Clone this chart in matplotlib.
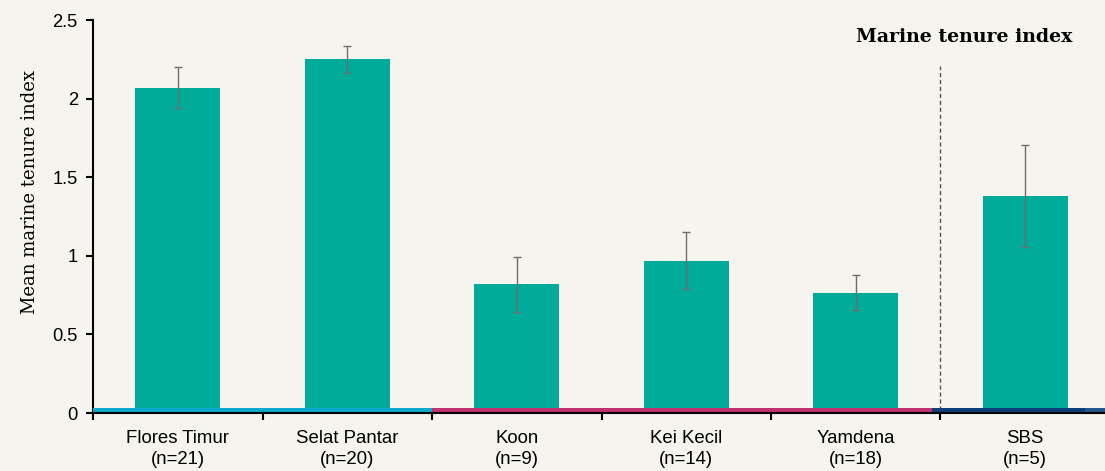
import matplotlib
matplotlib.use('Agg')
import matplotlib.pyplot as plt
import numpy as np

# ---------------------------------------------------------------------------
# Data
# ---------------------------------------------------------------------------

sites = ['Flores Timur', 'Selat Pantar', 'Koon', 'Kei Kecil', 'Yamdena', 'SBS']
sample_n = [21, 20, 9, 14, 18, 5]
mean_index = [2.07, 2.25, 0.82, 0.97, 0.765, 1.38]
err_index = [0.13, 0.085, 0.175, 0.18, 0.11, 0.325]

# region bands along the base: (first x, last x, colour)
band_start = [-0.5, 1.5, 4.45, 5.35]
band_end = [1.5, 4.45, 5.35, 5.5]
band_colors = ['#0ea9cb', '#c1316f', '#0d3e78', '#25568e']

BG = '#f5f4ee'
BAR = '#00ab9a'

# ---------------------------------------------------------------------------
# Plot
# ---------------------------------------------------------------------------

fig = plt.figure(figsize=(11.05, 4.71), dpi=100, facecolor=BG)
ax = fig.add_axes([0.0842, 0.1231, 0.9203, 0.8344])
ax.set_facecolor(BG)

x = np.arange(len(sites))
ax.bar(x, mean_index, width=0.5, color=BAR, zorder=2)
ax.errorbar(x, mean_index, yerr=err_index, fmt='none', ecolor='#6e6e6e',
            elinewidth=1, capsize=3, capthick=1, zorder=3)

for x0, x1, c in zip(band_start, band_end, band_colors):
    ax.fill_between([x0, x1], 0, 0.03, color=c, lw=0, zorder=4)

ax.vlines(4.5, 0.02, 2.21, colors='#555555', linestyles=(0, (3, 2)), lw=1, zorder=1)
ax.text(4.64, 2.39, 'Marine tenure index', ha='center', va='center',
        fontsize=13.6, fontweight='bold', family='DejaVu Serif')

ax.set_xlim(-0.5, 5.5)
ax.set_ylim(0, 2.5)
ax.set_yticks([0, 0.5, 1, 1.5, 2, 2.5])
ax.set_yticklabels(['0', '0.5', '1', '1.5', '2', '2.5'], family='Liberation Sans', fontsize=13.2)

# category labels centred, tick marks on the boundaries
ax.set_xticks(np.arange(-0.5, 5.6, 1.0))
ax.set_xticklabels([])
ax.set_xticks(x, minor=True)
ax.set_xticklabels([f'{s}\n(n={n})' for s, n in zip(sites, sample_n)], minor=True,
                   family='Liberation Sans', fontsize=13.4, linespacing=1.3)
ax.tick_params(axis='x', which='minor', length=0, pad=12)
ax.tick_params(axis='x', which='major', length=5, width=1.5, color='black')
ax.tick_params(axis='y', length=5, width=1.5, color='black', pad=6)

ax.set_ylabel('Mean marine tenure index', family='DejaVu Serif', fontsize=13)
ax.yaxis.set_label_coords(-0.053, 0.562)

for side in ['top', 'right']:
    ax.spines[side].set_visible(False)
for side in ['left', 'bottom']:
    ax.spines[side].set_linewidth(1.5)
ax.spines['bottom'].set_zorder(5)

fig.savefig('out.png', dpi=100, facecolor=BG)
plt.close(fig)
